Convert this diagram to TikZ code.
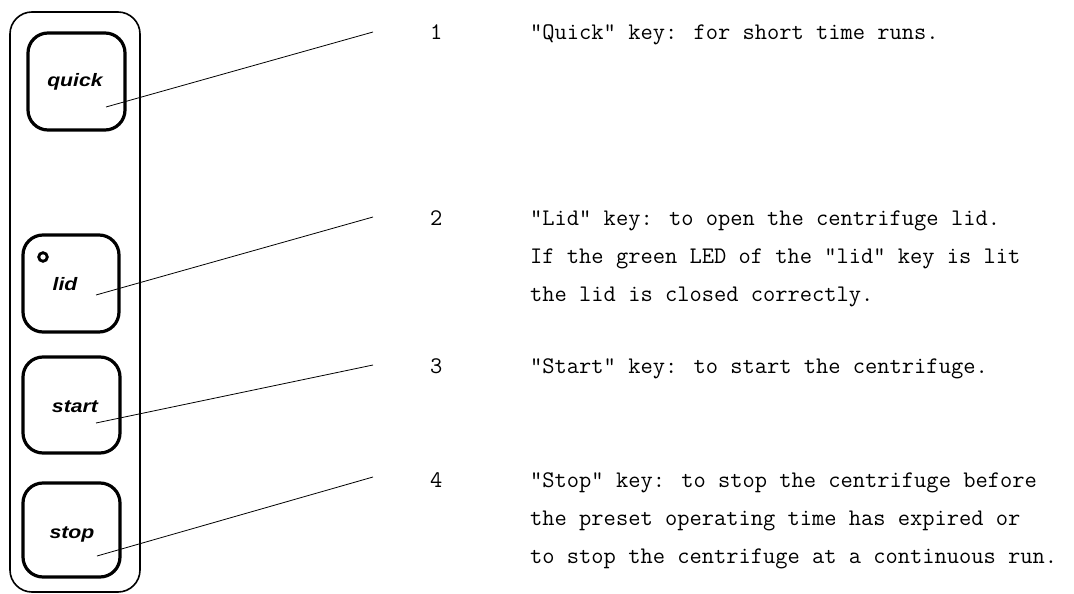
\documentclass[tikz,border=0pt]{standalone}
\usepackage{fontspec}
\newfontfamily\keyfont{Liberation Sans}
\begin{document}
\begin{tikzpicture}[x=1pt,y=-1pt,
  panel/.style={draw, line width=1.6pt, rounded corners=22pt},
  keybox/.style={draw, line width=3.2pt, rounded corners=20pt},
  keylabel/.style={anchor=base, inner sep=0pt, font=\keyfont\bfseries\itshape\fontsize{18}{20}\selectfont},
  leader/.style={line width=0.8pt},
  desc/.style={anchor=base west, inner sep=0pt, font=\ttfamily\fontsize{23.8}{38}\selectfont\addfontfeature{FakeBold=1.2}},
]
\useasboundingbox (0,0) rectangle (1074,594);

% keypad frame
\draw[panel] (10,12) rectangle (140,592);

% keys
\draw[keybox] (28,33) rectangle (125,130);
\draw[keybox] (23,235) rectangle (119,332);
\draw[keybox] (23,357) rectangle (120,453);
\draw[keybox] (23,483) rectangle (120,577);

% key captions
\node[keylabel] (kquick) at (75,87) {\scalebox{1.18}[1]{quick}};
\node[keylabel] (klid) at (65,290) {\scalebox{1.18}[1]{lid}};
\node[keylabel] (kstart) at (75,412) {\scalebox{1.18}[1]{start}};
\node[keylabel] (kstop) at (72,538) {\scalebox{1.18}[1]{stop}};

% LED of the lid key
\draw[line width=2.8pt] (43,257) circle (4.3pt);

% leader lines
\coordinate (p1) at (106,107); \coordinate (q1) at (373,32);
\coordinate (p2) at (96,295);  \coordinate (q2) at (373,217);
\coordinate (p3) at (96,423);  \coordinate (q3) at (373,365);
\coordinate (p4) at (97,556);  \coordinate (q4) at (373,477);
\draw[leader] (p1) -- (q1);
\draw[leader] (p2) -- (q2);
\draw[leader] (p3) -- (q3);
\draw[leader] (p4) -- (q4);

% descriptions
\node[desc] (n1) at (430,40) {1};
\node[desc] (t1) at (530,40) {"Quick" key: for short time runs.};

\node[desc] (n2) at (430,225) {2};
\node[desc] (t2a) at (530,225) {"Lid" key: to open the centrifuge lid.};
\node[desc] (t2b) at (530,263) {If the green LED of the "lid" key is lit};
\node[desc] (t2c) at (530,301) {the lid is closed correctly.};

\node[desc] (n3) at (430,373) {3};
\node[desc] (t3) at (530,373) {"Start" key: to start the centrifuge.};

\node[desc] (n4) at (430,487) {4};
\node[desc] (t4a) at (530,487) {"Stop" key: to stop the centrifuge before};
\node[desc] (t4b) at (530,525) {the preset operating time has expired or};
\node[desc] (t4c) at (530,563) {to stop the centrifuge at a continuous run.};
\end{tikzpicture}
\end{document}
